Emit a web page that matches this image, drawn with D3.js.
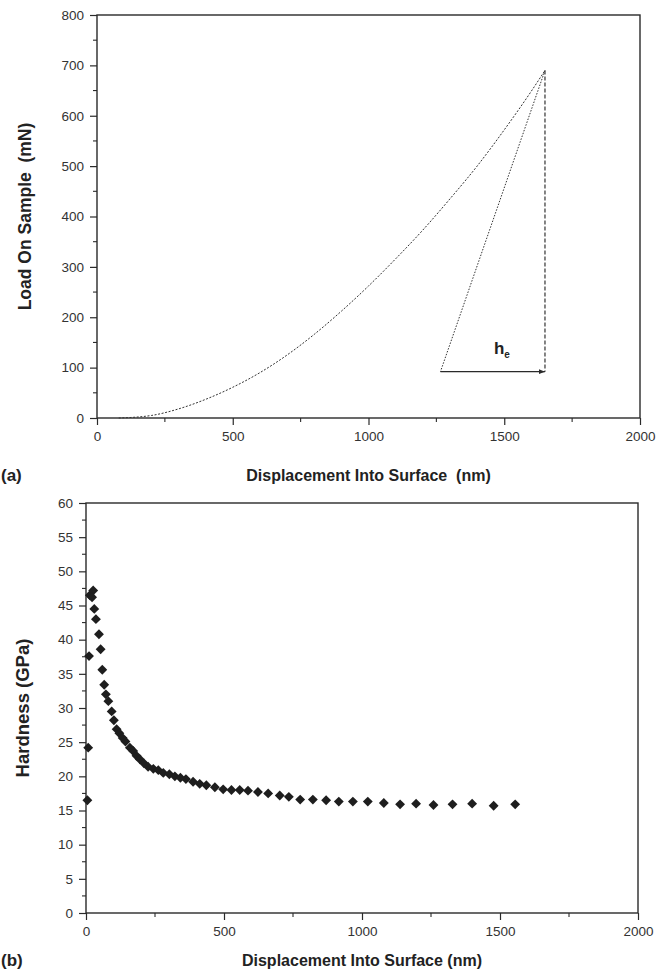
<!DOCTYPE html>
<html>
<head>
<meta charset="utf-8">
<script src="https://cdn.jsdelivr.net/npm/d3@7"></script>
<style>
  body { margin: 0; background: #fff; }
  svg { display: block; font-family: "Liberation Sans", Arial, sans-serif; }
  .title { white-space: pre; }
</style>
</head>
<body>
<svg id="chart" width="672" height="974"></svg>
<script>
// (a) loading curve, displacement (nm) vs load (mN)
var loadDepth = [80, 200, 300, 400, 500, 600, 700, 800, 900, 1000, 1100, 1200, 1300, 1400, 1500, 1600, 1650];
var loadForce = [0, 5, 18, 37, 61, 90, 125, 166, 212, 262, 316, 373, 435, 500, 572, 649, 690];
// unloading tangent and h_e marker
var unloadDepth = [1650, 1265];
var unloadForce = [690, 92];
var heLevel = 92;

// (b) hardness vs displacement
var hardDepth = [5, 8, 11, 14, 26, 22, 30, 36, 47, 53, 59, 66, 72, 81, 93, 101, 111, 121, 133, 143,
  159, 171, 183, 195, 210, 225, 244, 262, 280, 302, 322, 342, 362, 388, 412, 436, 467, 497, 527, 557,
  587, 623, 660, 702, 735, 776, 822, 870, 916, 967, 1021, 1079, 1138, 1196, 1259, 1328, 1399, 1477, 1555];
var hardValue = [16.5, 24.2, 37.6, 46.5, 47.2, 46.2, 44.5, 43.0, 40.8, 38.6, 35.6, 33.4, 32.0, 31.0, 29.5, 28.2, 26.9, 26.3, 25.6, 25.1,
  24.2, 23.7, 23.0, 22.5, 21.9, 21.4, 21.1, 20.9, 20.5, 20.3, 20.0, 19.8, 19.6, 19.2, 18.9, 18.7, 18.4, 18.1, 18.0, 18.0,
  17.9, 17.7, 17.5, 17.2, 17.0, 16.6, 16.6, 16.5, 16.3, 16.3, 16.3, 16.1, 15.9, 16.0, 15.8, 15.9, 16.0, 15.7, 15.9];

var xTicks = [0, 500, 1000, 1500, 2000];
var loadTicks = [0, 100, 200, 300, 400, 500, 600, 700, 800];
var hardTicks = [0, 5, 10, 15, 20, 25, 30, 35, 40, 45, 50, 55, 60];

var svg = d3.select("#chart");
var ink = "#2a2a2a";

var defs = svg.append("defs");
defs.append("marker")
  .attr("id", "arrow")
  .attr("viewBox", "0 0 10 10")
  .attr("refX", 10).attr("refY", 5)
  .attr("markerWidth", 9).attr("markerHeight", 6)
  .attr("markerUnits", "userSpaceOnUse")
  .attr("orient", "auto")
  .append("path").attr("d", "M0,1 L10,5 L0,9 Z").attr("fill", ink);

// draws a boxed frame with outward ticks on left and bottom
var drawFrame = function(g, x, y, xMinor, yMinor, yTickVals) {
  var x0 = x.range()[0], x1 = x.range()[1];
  var y0 = y.range()[0], y1 = y.range()[1];

  var xAxis = d3.axisBottom(x).tickValues(xTicks).tickFormat(d3.format("d")).tickSize(7).tickPadding(6);
  var yAxis = d3.axisLeft(y).tickValues(yTickVals).tickFormat(d3.format("d")).tickSize(7).tickPadding(6);

  var gx = g.append("g").attr("transform", "translate(0," + y0 + ")").call(xAxis);
  var gy = g.append("g").attr("transform", "translate(" + x0 + ",0)").call(yAxis);
  [gx, gy].forEach(function(a) {
    a.select(".domain").remove();
    a.selectAll("line").attr("stroke", ink).attr("stroke-width", 1.2);
    a.selectAll("text").attr("fill", "#333").style("font-size", "13.5px");
  });

  g.append("g").selectAll("line").data(xMinor).enter().append("line")
    .attr("x1", function(d) { return x(d); }).attr("x2", function(d) { return x(d); })
    .attr("y1", y0).attr("y2", y0 + 4)
    .attr("stroke", ink).attr("stroke-width", 1.1);
  g.append("g").selectAll("line").data(yMinor).enter().append("line")
    .attr("y1", function(d) { return y(d); }).attr("y2", function(d) { return y(d); })
    .attr("x1", x0).attr("x2", x0 - 4)
    .attr("stroke", ink).attr("stroke-width", 1.1);

  g.append("rect")
    .attr("x", x0).attr("y", y1)
    .attr("width", x1 - x0).attr("height", y0 - y1)
    .attr("fill", "none").attr("stroke", ink).attr("stroke-width", 1.4);
};

// ---------- panel (a) ----------
var xa = d3.scaleLinear().domain([0, 2000]).range([97, 640]);
var ya = d3.scaleLinear().domain([0, 800]).range([418, 15]);
var ga = svg.append("g");

drawFrame(ga, xa, ya, [250, 750, 1250, 1750], [50, 150, 250, 350, 450, 550, 650, 750], loadTicks);

var loadPts = loadDepth.map(function(d, i) { return [d, loadForce[i]]; });
ga.append("path")
  .datum(loadPts)
  .attr("d", d3.line().curve(d3.curveMonotoneX).x(function(d) { return xa(d[0]); }).y(function(d) { return ya(d[1]); }))
  .attr("fill", "none").attr("stroke", "#333").attr("stroke-width", 1)
  .attr("stroke-dasharray", "2,1.6");

ga.append("line")
  .attr("x1", xa(unloadDepth[0])).attr("y1", ya(unloadForce[0]))
  .attr("x2", xa(unloadDepth[1])).attr("y2", ya(unloadForce[1]))
  .attr("stroke", "#333").attr("stroke-width", 1).attr("stroke-dasharray", "1.5,1.5");

ga.append("line")
  .attr("x1", xa(unloadDepth[0])).attr("y1", ya(unloadForce[0]))
  .attr("x2", xa(unloadDepth[0])).attr("y2", ya(heLevel))
  .attr("stroke", "#333").attr("stroke-width", 1.2).attr("stroke-dasharray", "4,2");

ga.append("line")
  .attr("x1", xa(unloadDepth[1])).attr("y1", ya(heLevel))
  .attr("x2", xa(unloadDepth[0])).attr("y2", ya(heLevel))
  .attr("stroke", ink).attr("stroke-width", 1.2)
  .attr("marker-end", "url(#arrow)");

var he = ga.append("text")
  .attr("x", xa(1462)).attr("y", ya(128))
  .attr("fill", "#222").style("font-size", "17px").style("font-weight", "bold");
he.append("tspan").text("h");
he.append("tspan").text("e").attr("dy", 4).style("font-size", "10px");

ga.append("text").attr("class", "title")
  .attr("x", 25).attr("y", (15 + 418) / 2)
  .attr("transform", "rotate(-90,25," + ((15 + 418) / 2) + ")")
  .attr("text-anchor", "middle").attr("dominant-baseline", "central")
  .attr("fill", "#222").style("font-size", "17.5px").style("font-weight", "bold")
  .text("Load On Sample  (mN)");

ga.append("text").attr("class", "title")
  .attr("x", (97 + 640) / 2).attr("y", 481)
  .attr("text-anchor", "middle")
  .attr("fill", "#222").style("font-size", "16px").style("font-weight", "bold")
  .text("Displacement Into Surface  (nm)");

ga.append("text")
  .attr("x", 1).attr("y", 481)
  .attr("fill", "#222").style("font-size", "17px").style("font-weight", "bold")
  .text("(a)");

// ---------- panel (b) ----------
var xb = d3.scaleLinear().domain([0, 2000]).range([86, 638]);
var yb = d3.scaleLinear().domain([0, 60]).range([913, 503]);
var gb = svg.append("g");

var hardMinor = d3.range(2.5, 60, 5);
drawFrame(gb, xb, yb, [250, 750, 1250, 1750], hardMinor, hardTicks);

gb.append("g").selectAll("path")
  .data(hardDepth.map(function(d, i) { return [d, hardValue[i]]; }))
  .enter().append("path")
  .attr("transform", function(d) { return "translate(" + xb(d[0]) + "," + yb(d[1]) + ")"; })
  .attr("d", d3.symbol().type(d3.symbolDiamond2).size(62))
  .attr("fill", "#1e1e1e");

gb.append("text").attr("class", "title")
  .attr("x", 22).attr("y", (503 + 913) / 2)
  .attr("transform", "rotate(-90,22," + ((503 + 913) / 2) + ")")
  .attr("text-anchor", "middle").attr("dominant-baseline", "central")
  .attr("fill", "#222").style("font-size", "18.5px").style("font-weight", "bold")
  .text("Hardness (GPa)");

gb.append("text").attr("class", "title")
  .attr("x", (86 + 638) / 2).attr("y", 966)
  .attr("text-anchor", "middle")
  .attr("fill", "#222").style("font-size", "16px").style("font-weight", "bold")
  .text("Displacement Into Surface (nm)");

gb.append("text")
  .attr("x", 1).attr("y", 966)
  .attr("fill", "#222").style("font-size", "17px").style("font-weight", "bold")
  .text("(b)");
</script>
</body>
</html>
